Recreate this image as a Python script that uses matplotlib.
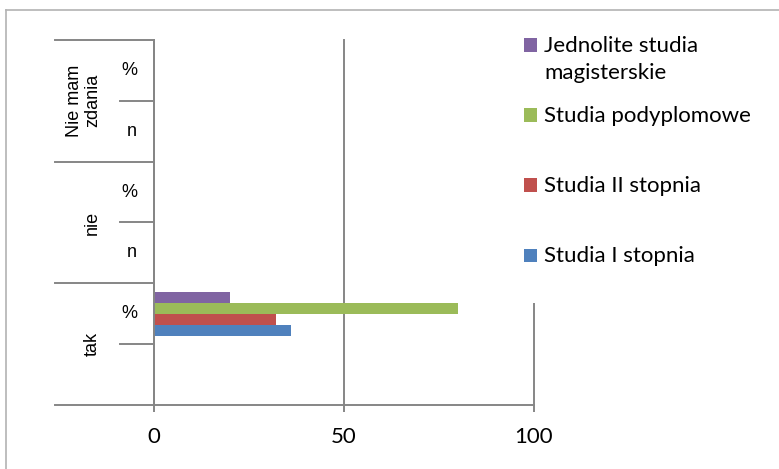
import numpy as np
import matplotlib
matplotlib.use("Agg")
import matplotlib.pyplot as plt
import matplotlib.transforms as mtransforms
from matplotlib.patches import Rectangle
from matplotlib.lines import Line2D

# categories, bottom to top
groups = ['tak', 'nie', 'Nie mam\nzdania']
inner_labels = ['', '%', 'n', '%', 'n', '%']

series_names = ['Studia I stopnia', 'Studia II stopnia',
                'Studia podyplomowe', 'Jednolite studia\nmagisterskie']
studia_1 = [np.nan, 36, np.nan, np.nan, np.nan, np.nan]
studia_2 = [np.nan, 32, np.nan, np.nan, np.nan, np.nan]
podyplomowe = [np.nan, 80, np.nan, np.nan, np.nan, np.nan]
jednolite = [np.nan, 20, np.nan, np.nan, np.nan, np.nan]
colors = ['#4F81BD', '#C0504D', '#9BBB59', '#8064A2']

x_ticks = [0, 50, 100]

W, H = 779, 469
gray = '#868686'


def fx(x):
    return x / W


def fy(y):
    return (H - y) / H


fig = plt.figure(figsize=(W / 100, H / 100), dpi=100)
ax = fig.add_axes([fx(154), fy(405), 380 / W, 365 / H])

n_cat = len(inner_labels)
y = np.arange(n_cat)
h = 0.18
all_series = [studia_1, studia_2, podyplomowe, jednolite]
for i, vals in enumerate(all_series):
    ax.barh(y + (i - 1.5) * h, np.array(vals, dtype=float), height=h,
            color=colors[i], zorder=3)

ax.set_xlim(0, 100)
ax.set_ylim(-0.5, n_cat - 0.5)
ax.set_xticks(x_ticks)
ax.set_xticklabels([str(t) for t in x_ticks], fontfamily='Lato', fontsize=16)
ax.tick_params(axis='x', direction='out', length=5, width=1.4, color=gray, pad=11)
ax.set_yticks([])
ax.xaxis.grid(True, color=gray, linewidth=1.4)
for line in ax.get_xgridlines():
    line.set_clip_on(False)
for s in ['top', 'right', 'bottom']:
    ax.spines[s].set_visible(False)
ax.spines['left'].set_color(gray)
ax.spines['left'].set_linewidth(1.4)
ax.spines['left'].set_zorder(4)

# category axis lines (multi-level)
trans = mtransforms.blended_transform_factory(ax.transAxes, ax.transData)
left_frac = (55 - 154) / 380
ax.plot([left_frac, 1], [-0.5, -0.5], transform=trans, color=gray, lw=1.4, clip_on=False, zorder=4)
for b in [1.5, 3.5, 5.5]:
    ax.plot([left_frac, 0], [b, b], transform=trans, color=gray, lw=1.4, clip_on=False)
for b in [0.5, 2.5, 4.5]:
    ax.plot([(120 - 154) / 380, 0], [b, b], transform=trans, color=gray, lw=1.4, clip_on=False)

for i, lab in enumerate(inner_labels):
    ax.text((137 - 154) / 380, i, lab, transform=trans, ha='right', va='center',
            fontfamily='Liberation Sans', fontsize=13)
for g, lab in enumerate(groups):
    ax.text((101 - 154) / 380, 2 * g + 0.5, lab, transform=trans, ha='right', va='center',
            rotation=90, multialignment='center', linespacing=1.1,
            fontfamily='Liberation Sans', fontsize=13)

# legend (white box over plot area)
fig.add_artist(Rectangle((fx(515), fy(303)), fx(770) - fx(515), fy(25) - fy(303),
                         transform=fig.transFigure, facecolor='white', edgecolor='none', zorder=2))
leg_y = [255, 185, 115, 45]
for i, name in enumerate(series_names):
    cy = leg_y[i]
    fig.add_artist(Rectangle((fx(524), fy(cy + 6.5)), 13 / W, 13 / H,
                             transform=fig.transFigure, facecolor=colors[i],
                             edgecolor='none', zorder=3))
    fig.text(fx(544), fy(cy - 9), name, ha='left', va='top', fontfamily='Lato',
             fontsize=16, linespacing=1.45, zorder=3)

# outer chart border
fig.add_artist(Line2D([fx(6), 1], [fy(10), fy(10)], transform=fig.transFigure, color='#b3b3b3', lw=1.2))
fig.add_artist(Line2D([fx(6), fx(6)], [0, fy(10)], transform=fig.transFigure, color='#b3b3b3', lw=1.2))

fig.savefig('out.png', dpi=100)
